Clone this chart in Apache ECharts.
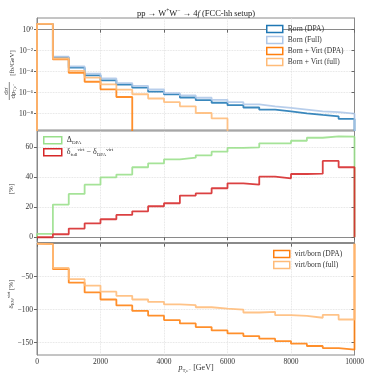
<!DOCTYPE html>
<html><head><meta charset="utf-8">
<script src="https://cdn.jsdelivr.net/npm/echarts@6/dist/echarts.min.js"></script>
<style>html,body{margin:0;padding:0;background:#fff}#c{width:374px;height:374px}</style>
</head><body><div id="c"></div>
<script>
// ---- data ----
const binEdges = [0,500,1000,1500,2000,2500,3000,3500,4000,4500,5000,5500,6000,6500,7000,7500,8000,8500,9000,9500,10000];
const xTicks = [0,2000,4000,6000,8000,10000];
// top panel: dσ/dpT [fb/GeV]  (null = empty bin)
const bornDPA  = [3.5,2.3e-3,2.4e-4,4.5e-5,1.5e-5,5.8e-6,3.0e-6,1.26e-6,6.9e-7,3.5e-7,1.95e-7,1.1e-7,6.5e-8,3.9e-8,2.45e-8,1.7e-8,1.1e-8,7.6e-9,5.6e-9,3.2e-9];
const bornFull = [3.5,2.7e-3,3.2e-4,6.5e-5,2.3e-5,8.3e-6,4.4e-6,2.1e-6,9.3e-7,5.5e-7,3.3e-7,2.1e-7,1.26e-7,7.9e-8,5.1e-8,3.6e-8,2.5e-8,1.7e-8,1.4e-8,1.0e-8];
const virtDPA  = [3.5,1.5e-3,7.9e-5,1.1e-5,2.1e-6,3.9e-7,null,null,null,null,null,null,null,null,null,null,null,null,null,null];
const virtFull = [3.5,1.8e-3,1.17e-4,2.7e-5,6.3e-6,1.95e-6,7.1e-7,2.8e-7,1.26e-7,5.1e-8,1.17e-8,3.6e-9,null,null,null,null,null,null,null,null];
const topTickExp = [0,-2,-4,-6,-8];
// middle panel [%]
const deltaDPA = [2.2,21.8,28.9,35.1,40,41.8,46.7,49.3,52,53.1,54.7,57.1,59.6,60,62.7,62.7,64.4,66.4,67.3,67.1];
const deltaVirt = [0,2,5.8,9.3,12,14.9,17.3,20.7,22.7,27.8,29.3,32.7,36,35.1,40.4,39.3,42.2,42.4,50.9,46.7];
const midTicks = [0,20,40,60];
// bottom panel δ_EW^virt [%]
const virtBornDPA  = [-0.5,-38.5,-59.1,-73.8,-84.5,-93.5,-101.8,-109.1,-115.7,-120.7,-126.3,-131.3,-135.9,-139.9,-143.9,-147.5,-151.5,-155,-158.1,-160.6];
const virtBornFull = [-0.5,-36.8,-53.8,-63.5,-72.7,-79,-84.5,-88.2,-92,-93.2,-96.3,-98.3,-99.8,-104.2,-103.3,-108.2,-109.3,-112.2,-107.8,-114.8];
const botTicks = [-150,-100,-50];

// ---- helpers ----
function steps(vals, base, tf) {
  tf = tf || (v => v);
  const pts = [[binEdges[0], base]];
  let last = -1;
  for (let i = 0; i < vals.length; i++) {
    if (vals[i] === null) break;
    pts.push([binEdges[i], tf(vals[i])]);
    last = i;
  }
  pts.push([binEdges[last + 1], tf(vals[last])]);
  pts.push([binEdges[last + 1], base]);
  return pts;
}
const log10 = v => Math.log10(v);
const FONT = '"Liberation Serif","DejaVu Serif",serif';
const TXT = '#333';
const FRAME = '#8a8a8a';
const GRIDC = '#dcdcdc';
const minus = v => (v < 0 ? '\u2212' + (-v) : String(v));
const supMap = {'0':'\u2070','2':'\u00b2','4':'\u2074','6':'\u2076','8':'\u2078','-':'\u207b'};
const expLabel = e => '10' + String(e).split('').map(c => supMap[c]).join('');

const grids = [
  {left: 37, top: 18, width: 317.5, height: 112},
  {left: 37, top: 131, width: 317.5, height: 111.5},
  {left: 37, top: 243.5, width: 317.5, height: 111.5}
].map(g => Object.assign(g, {show: true, borderColor: FRAME, borderWidth: 1, backgroundColor: 'transparent'}));

const xAxes = [0,1,2].map(i => ({
  type: 'value', gridIndex: i, min: 0, max: 10000, interval: 2000,
  axisLine: {show: true, lineStyle: {color: FRAME, width: 1}},
  axisTick: {show: true, inside: false, length: 3, lineStyle: {color: '#666'}},
  axisLabel: {show: i === 2, fontFamily: FONT, fontSize: 7.5, color: TXT, margin: 3, formatter: v => String(v)},
  splitLine: {show: true, lineStyle: {color: GRIDC, type: 'dotted', width: 0.8}}
}));

function yPair(grid, min, max, ticks, fmt) {
  const common = {type: 'value', gridIndex: grid, min: min, max: max};
  return [
    Object.assign({}, common, {
      position: 'left',
      axisLine: {show: true, lineStyle: {color: FRAME}},
      axisTick: {show: true, inside: false, length: 3, customValues: ticks, lineStyle: {color: '#666'}},
      axisLabel: {show: true, customValues: ticks, formatter: fmt, fontFamily: FONT, fontSize: 7.5, color: TXT, margin: 4},
      splitLine: {show: true, customValues: ticks, lineStyle: {color: GRIDC, type: 'dotted', width: 0.8}}
    }),
    Object.assign({}, common, {
      position: 'right',
      axisLine: {show: true, lineStyle: {color: FRAME}},
      axisTick: {show: true, inside: true, length: 3, customValues: ticks, lineStyle: {color: '#666'}},
      axisLabel: {show: false},
      splitLine: {show: false}
    })
  ];
}
const yAxes = [].concat(
  yPair(0, -9.55, 1.11, topTickExp, v => expLabel(Math.round(v))),
  yPair(1, -3.5, 70.9, midTicks, v => minus(v)),
  yPair(2, -168.6, 0.3, botTicks, v => minus(v))
);

function line(name, data, color, xi, yi) {
  return {
    name: name, type: 'line', step: 'end', data: data, xAxisIndex: xi, yAxisIndex: yi,
    showSymbol: false, symbol: 'none', clip: true, animation: false,
    lineStyle: {color: color, width: 1.8, opacity: 0.88},
    itemStyle: {color: color}
  };
}
const C = {blue: '#1f77b4', lblue: '#aec7e8', orange: '#ff7f0e', lorange: '#ffbb78', green: '#98df8a', red: '#d62728'};
const series = [
  line('Born (DPA)', steps(bornDPA, -20, log10), C.blue, 0, 0),
  line('Born (Full)', steps(bornFull, -20, log10), C.lblue, 0, 0),
  line('Born + Virt (DPA)', steps(virtDPA, -20, log10), C.orange, 0, 0),
  line('Born + Virt (full)', steps(virtFull, -20, log10), C.lorange, 0, 0),
  line('dDPA', steps(deltaDPA, 0), C.green, 1, 2),
  line('dvirt', steps(deltaVirt, 0), C.red, 1, 2),
  line('virt/born (DPA)', steps(virtBornDPA, 0), C.orange, 2, 4),
  line('virt/born (full)', steps(virtBornFull, 0), C.lorange, 2, 4)
];

const legendBase = {
  orient: 'vertical', icon: 'rect', itemWidth: 16, itemHeight: 7, itemGap: 2, padding: 0,
  selectedMode: false,
  textStyle: {fontFamily: FONT, fontSize: 7.5, color: TXT, lineHeight: 9},
  itemStyle: {color: '#fff', borderWidth: 1.5}
};
const legItem = (n, c) => ({name: n, itemStyle: {borderColor: c, color: '#fff'}});
const rich = {
  b: {fontFamily: FONT, fontSize: 8, color: TXT, lineHeight: 10},
  sb: {fontFamily: FONT, fontSize: 5, color: TXT, verticalAlign: 'bottom', lineHeight: 10, padding: [3, 0, 0, 0]},
  sp: {fontFamily: FONT, fontSize: 5, color: TXT, verticalAlign: 'top', lineHeight: 10, padding: [0, 0, 3, 0]}
};
const legends = [
  Object.assign({}, legendBase, {left: 266, top: 24.5,
    data: [legItem('Born (DPA)', C.blue), legItem('Born (Full)', C.lblue), legItem('Born + Virt (DPA)', C.orange), legItem('Born + Virt (full)', C.lorange)]}),
  Object.assign({}, legendBase, {left: 43, top: 136, itemWidth: 18, itemGap: 2,
    data: [legItem('dDPA', C.green), legItem('dvirt', C.red)],
    formatter: n => n === 'dDPA' ? '{b|\u0394}{sb|DPA}' : '{b|\u03b4}{sb|full}{sp|virt}{b| \u2212 \u03b4}{sb|DPA}{sp|virt}',
    textStyle: {fontFamily: FONT, fontSize: 7.5, color: TXT, rich: rich}}),
  Object.assign({}, legendBase, {left: 273, top: 249.5,
    data: [legItem('virt/born (DPA)', C.orange), legItem('virt/born (full)', C.lorange)]})
];

const graphic = [
  {type: 'text', x: 196, y: 13.5, style: {
    text: '{b|pp \u2192 W}{sp|+}{b|W}{sp|\u2212}{b| \u2192 4}{i|f}{b| (FCC-hh setup)}', align: 'center', verticalAlign: 'middle',
    rich: {b: {fontFamily: FONT, fontSize: 8.5, fill: '#222', lineHeight: 11},
           sp: {fontFamily: FONT, fontSize: 5.5, fill: '#222', verticalAlign: 'top', lineHeight: 11, padding: [0,0,4,0]},
           i: {fontFamily: FONT, fontSize: 8.5, fontStyle: 'italic', fill: '#222', lineHeight: 11}}
  }},
  // top y label
  {type: 'text', x: 6, y: 91, rotation: Math.PI / 2, style: {text: 'd\u03c3', fontFamily: FONT, fontSize: 7, fill: TXT, align: 'center', verticalAlign: 'middle'}},
  {type: 'line', shape: {x1: 9.3, y1: 82, x2: 9.3, y2: 100}, style: {stroke: TXT, lineWidth: 0.6}},
  {type: 'text', x: 13, y: 91, rotation: Math.PI / 2, style: {text: '{i|dp}{s|T,e\u207b}', align: 'center', verticalAlign: 'middle',
    rich: {i: {fontFamily: FONT, fontSize: 7, fill: TXT}, s: {fontFamily: FONT, fontSize: 4.5, fill: TXT, verticalAlign: 'bottom', lineHeight: 8, padding: [2,0,0,0]}}}},
  {type: 'text', x: 12.5, y: 63, rotation: Math.PI / 2, style: {text: '[fb/GeV]', fontFamily: FONT, fontSize: 7, fill: TXT, align: 'center', verticalAlign: 'middle'}},
  // middle y label
  {type: 'text', x: 11, y: 189, rotation: Math.PI / 2, style: {text: '[%]', fontFamily: FONT, fontSize: 7, fill: TXT, align: 'center', verticalAlign: 'middle'}},
  // bottom y label
  {type: 'text', x: 11, y: 294, rotation: Math.PI / 2, style: {text: '{i|\u03b4}{s|EW}{p|virt}{i| [%]}', align: 'center', verticalAlign: 'middle',
    rich: {i: {fontFamily: FONT, fontSize: 7, fill: TXT, lineHeight: 9}, s: {fontFamily: FONT, fontSize: 4.5, fill: TXT, verticalAlign: 'bottom', lineHeight: 9, padding: [2,0,0,0]}, p: {fontFamily: FONT, fontSize: 4.5, fill: TXT, verticalAlign: 'top', lineHeight: 9, padding: [0,0,2,0]}}}},
  // x label
  {type: 'text', x: 196, y: 368, style: {text: '{i|p}{s|T,e\u207b}{b| [GeV]}', align: 'center', verticalAlign: 'middle',
    rich: {i: {fontFamily: FONT, fontSize: 8, fontStyle: 'italic', fill: TXT, lineHeight: 10}, b: {fontFamily: FONT, fontSize: 8, fill: TXT, lineHeight: 10},
           s: {fontFamily: FONT, fontSize: 5, fill: TXT, verticalAlign: 'bottom', lineHeight: 10, padding: [3,0,0,0]}}}}
];

const chart = echarts.init(document.getElementById('c'), null, {renderer: 'canvas'});
chart.setOption({
  animation: false, backgroundColor: '#fff',
  grid: grids, xAxis: xAxes, yAxis: yAxes, series: series, legend: legends, graphic: graphic
});
</script></body></html>
